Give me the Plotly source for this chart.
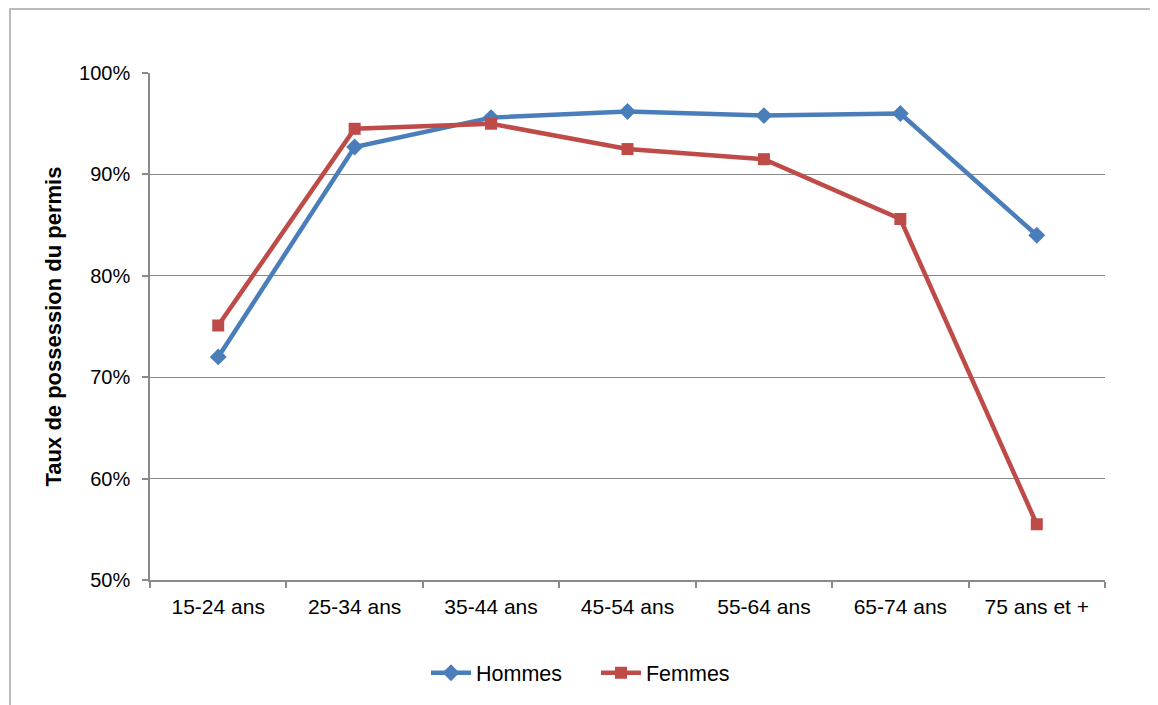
import plotly.graph_objects as go

categories = ["15-24 ans", "25-34 ans", "35-44 ans", "45-54 ans", "55-64 ans", "65-74 ans", "75 ans et +"]
hommes = [0.720, 0.927, 0.956, 0.962, 0.958, 0.960, 0.840]
femmes = [0.751, 0.945, 0.950, 0.925, 0.915, 0.856, 0.555]
y_ticks = [0.5, 0.6, 0.7, 0.8, 0.9, 1.0]
y_tick_labels = ["50%", "60%", "70%", "80%", "90%", "100%"]

FONT = "Liberation Sans, Arial, sans-serif"
GRID = "#8A8A8A"

fig = go.Figure()
fig.add_trace(go.Scatter(
    x=categories, y=hommes, name="Hommes", mode="lines+markers",
    line=dict(color="#4A7EBB", width=4.5),
    marker=dict(symbol="diamond", size=13, color="#4A7EBB"),
))
fig.add_trace(go.Scatter(
    x=categories, y=femmes, name="Femmes", mode="lines+markers",
    line=dict(color="#BE4B48", width=4.5),
    marker=dict(symbol="square", size=12, color="#BE4B48"),
))

fig.update_layout(
    width=1150, height=697,
    margin=dict(l=142, r=53, t=65, b=125),
    paper_bgcolor="white", plot_bgcolor="white",
    font=dict(family=FONT, size=20, color="#000000"),
    showlegend=True,
    legend=dict(orientation="h", x=0.467, xanchor="center", y=-0.183, yanchor="middle",
                font=dict(size=21.5), itemwidth=40,
                entrywidth=115, entrywidthmode="pixels"),
    xaxis=dict(
        type="category", range=[-0.5, 6.5], tickson="boundaries",
        showline=True, linecolor=GRID, linewidth=1.5,
        ticks="outside", ticklen=6, tickcolor=GRID, tickwidth=1.5,
        showgrid=False, ticklabelstandoff=7, tickfont=dict(size=21),
    ),
    yaxis=dict(
        range=[0.5, 1.0], tickvals=y_ticks, ticktext=y_tick_labels,
        showline=True, linecolor=GRID, linewidth=1.5,
        ticks="outside", ticklen=6, tickcolor=GRID, tickwidth=1.5,
        showgrid=True, gridcolor=GRID, gridwidth=1, zeroline=False,
        ticklabelstandoff=8, tickfont=dict(size=20),
        title=dict(text="<b>Taux de possession du permis</b>", standoff=11,
                   font=dict(size=22)),
    ),
    shapes=[dict(type="rect", xref="paper", yref="paper",
                 x0=-0.1466, x1=1.0545, y0=-0.26, y1=1.1262,
                 line=dict(color="#A6A6A6", width=1.5), fillcolor="rgba(0,0,0,0)",
                 layer="below")],
)

fig.write_html("out.html")
